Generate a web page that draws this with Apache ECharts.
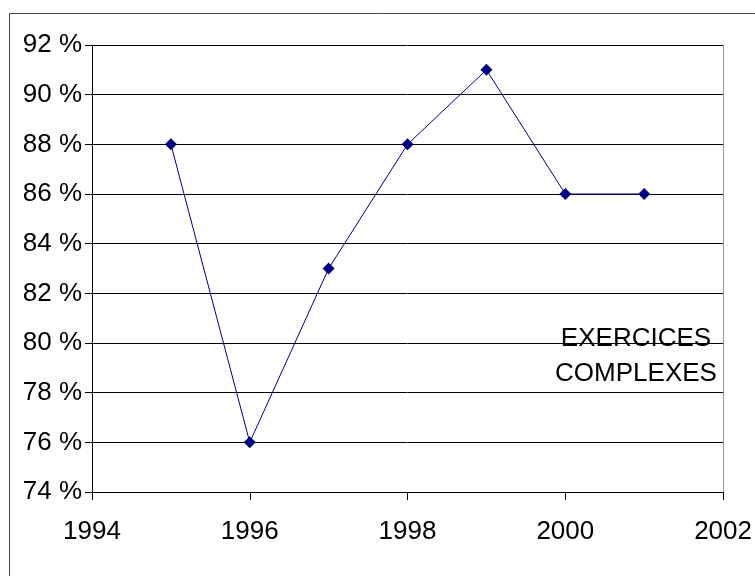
<!DOCTYPE html>
<html>
<head>
<meta charset="utf-8">
<script src="https://cdn.jsdelivr.net/npm/echarts@6/dist/echarts.min.js"></script>
<style>
  html, body { margin: 0; padding: 0; background: #fff; }
  #chart { width: 755px; height: 576px; }
</style>
</head>
<body>
<div id="chart"></div>
<script>
// données
const years = [1995, 1996, 1997, 1998, 1999, 2000, 2001];
const scores = [88, 76, 83, 88, 91, 86, 86];
const seriesName = "EXERCICES\nCOMPLEXES";

const font = "'Liberation Sans', Arial, sans-serif";
const fsize = 26;
let myChart = echarts.init(document.getElementById('chart'), null, {renderer: 'canvas'});

let option = {
  animation: false,
  backgroundColor: '#fff',
  grid: { left: 92, right: 31, top: 45, bottom: 84 },
  xAxis: {
    type: 'value',
    min: 1994,
    max: 2002,
    interval: 2,
    axisLine: { show: true, lineStyle: { color: '#000', width: 1 } },
    axisTick: { show: true, length: 8, lineStyle: { color: '#000' } },
    axisLabel: { color: '#000', fontSize: fsize, fontFamily: font, margin: 27, formatter: (v) => String(v) },
    splitLine: { show: false }
  },
  yAxis: [
    {
      type: 'value',
      min: 74,
      max: 92,
      interval: 2,
      axisLine: { show: true, lineStyle: { color: '#000', width: 1 } },
      axisTick: { show: true, length: 7, lineStyle: { color: '#000' } },
      axisLabel: { color: '#000', fontSize: fsize, fontFamily: font, margin: 10, formatter: '{value} %' },
      splitLine: { show: true, lineStyle: { color: '#000', width: 1 } }
    },
    {
      // bord droit de la zone de tracé
      type: 'value',
      position: 'right',
      min: 74,
      max: 92,
      interval: 2,
      axisLine: { show: true, lineStyle: { color: '#999', width: 1 } },
      axisTick: { show: false },
      axisLabel: { show: false },
      splitLine: { show: false }
    }
  ],
  graphic: [
    {
      type: 'rect',
      silent: true,
      shape: { x: 9.5, y: 13.5, width: 800, height: 700 },
      style: { fill: 'none', stroke: '#444', lineWidth: 1 }
    },
    {
      type: 'text',
      x: 636,
      y: 321,
      style: {
        text: seriesName,
        fill: '#000',
        fontSize: fsize,
        fontFamily: font,
        lineHeight: 35,
        align: 'center'
      }
    }
  ],
  series: [
    {
      name: 'EXERCICES COMPLEXES',
      type: 'line',
      data: years.map((y, i) => [y, scores[i]]),
      symbol: 'diamond',
      symbolSize: 12,
      itemStyle: { color: '#000080' },
      lineStyle: { color: '#000080', width: 1 }
    }
  ]
};
myChart.setOption(option);
</script>
</body>
</html>
